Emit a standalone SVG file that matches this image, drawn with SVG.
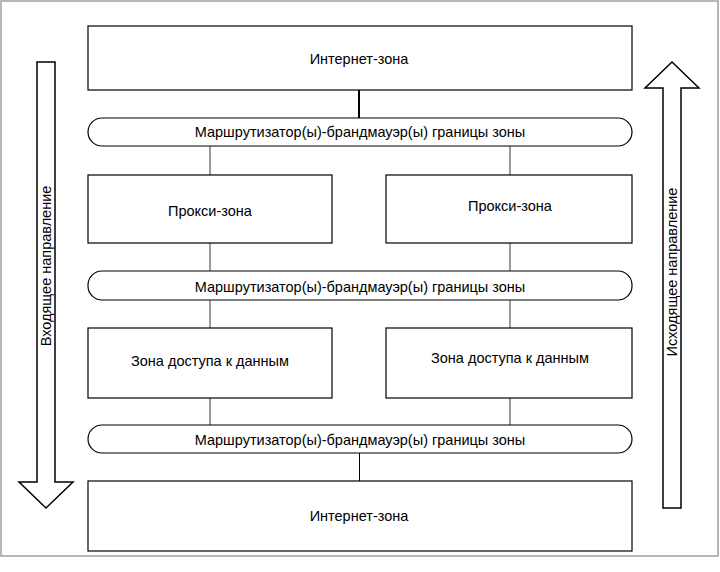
<svg xmlns="http://www.w3.org/2000/svg" width="720" height="572" viewBox="0 0 720 572">
<style>
.box{fill:#fff;stroke:#000;stroke-width:1.2}
.pill{fill:#fff;stroke:#000;stroke-width:1.2}
.t{font-family:"Liberation Sans",Arial,sans-serif;font-size:14.5px;fill:#000;text-anchor:middle;dominant-baseline:central}
.c{stroke:#7a7a7a;stroke-width:1.5;fill:none}
.ck{stroke:#000;stroke-width:2;fill:none}
.cb{stroke:#000;stroke-width:1;fill:none}
.arr{fill:#fff;stroke:#000;stroke-width:1.5}
</style>
<rect x="0" y="0" width="720" height="572" fill="#fff"/>
<rect x="1" y="1" width="717" height="555" fill="none" stroke="#a0a0a0" stroke-width="1.5"/>
<g id="connectors">
<line class="ck" x1="359" y1="90" x2="359" y2="118"/>
<line class="c" x1="210" y1="146" x2="210" y2="175"/>
<line class="c" x1="510" y1="146" x2="510" y2="175"/>
<line class="c" x1="210" y1="243" x2="210" y2="271"/>
<line class="c" x1="510" y1="243" x2="510" y2="271"/>
<line class="c" x1="210" y1="300" x2="210" y2="328"/>
<line class="c" x1="510" y1="300" x2="510" y2="328"/>
<line class="c" x1="210" y1="398" x2="210" y2="425"/>
<line class="c" x1="510" y1="398" x2="510" y2="425"/>
<line class="cb" x1="359.5" y1="453" x2="359.5" y2="481"/>
</g>
<g id="internet-top"><rect class="box" x="88" y="26" width="544" height="64"/><text class="t" x="359" y="59">Интернет-зона</text></g>
<g id="router-1"><rect class="pill" x="88" y="118" width="544" height="28" rx="14"/><text class="t" x="360" y="132">Маршрутизатор(ы)-брандмауэр(ы) границы зоны</text></g>
<g id="proxy-left"><rect class="box" x="88" y="175" width="244" height="68"/><text class="t" x="210" y="211">Прокси-зона</text></g>
<g id="proxy-right"><rect class="box" x="386" y="175" width="246" height="68"/><text class="t" x="510" y="206">Прокси-зона</text></g>
<g id="router-2"><rect class="pill" x="88" y="271" width="544" height="29" rx="14"/><text class="t" x="360" y="287">Маршрутизатор(ы)-брандмауэр(ы) границы зоны</text></g>
<g id="data-left"><rect class="box" x="88" y="328" width="244" height="70"/><text class="t" x="210" y="361">Зона доступа к данным</text></g>
<g id="data-right"><rect class="box" x="386" y="328" width="246" height="70"/><text class="t" x="510" y="358">Зона доступа к данным</text></g>
<g id="router-3"><rect class="pill" x="88" y="425" width="544" height="28" rx="14"/><text class="t" x="360" y="440">Маршрутизатор(ы)-брандмауэр(ы) границы зоны</text></g>
<g id="internet-bottom"><rect class="box" x="88" y="481" width="544" height="70"/><text class="t" x="359" y="516">Интернет-зона</text></g>
<g id="incoming-arrow"><polygon class="arr" points="37,62 55,62 55,482 73,482 46,508 19,482 37,482"/><text class="t" transform="translate(46 266) rotate(-90)">Входящее направление</text></g>
<g id="outgoing-arrow"><polygon class="arr" points="672,62 699,88 681,88 681,508 663,508 663,88 645,88"/><text class="t" transform="translate(672 272) rotate(-90)">Исходящее направление</text></g>
</svg>
